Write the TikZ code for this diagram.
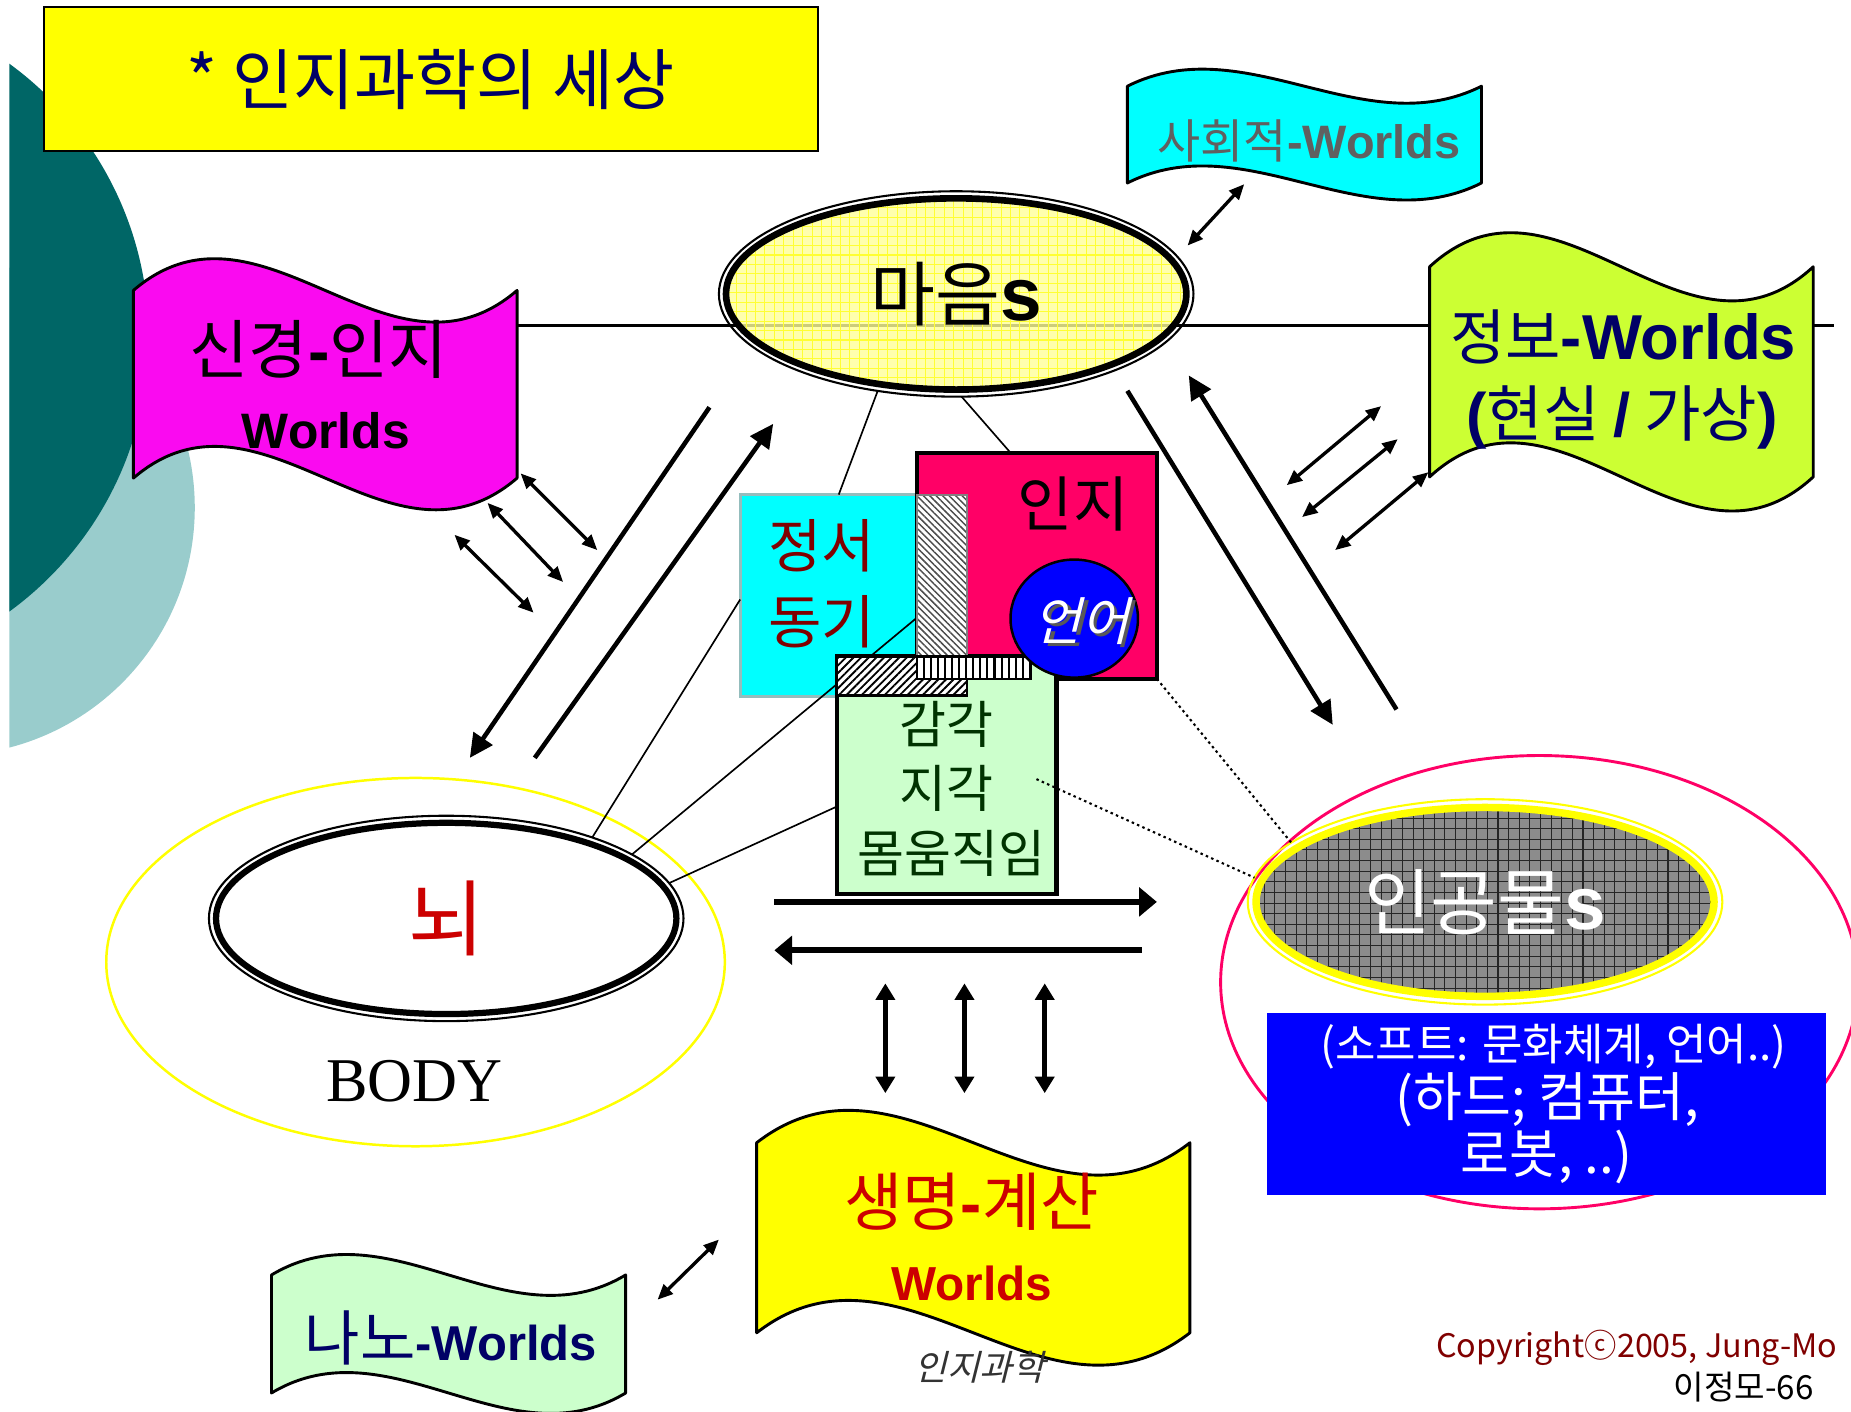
\documentclass[tikz,border=0pt]{standalone}
\usepackage{fontspec}
\setmainfont{Noto Sans CJK KR}
\newfontfamily\arial{Liberation Sans}
\newfontfamily\tnr{Liberation Serif}
\newfontfamily\krit[FakeSlant=0.25]{Noto Sans CJK KR}
\usetikzlibrary{arrows.meta,shapes.geometric,patterns.meta}
\definecolor{navy}{HTML}{000066}
\definecolor{tealD}{HTML}{006666}
\definecolor{tealL}{HTML}{99CCCC}
\definecolor{magW}{HTML}{FA0AF0}
\definecolor{limeW}{HTML}{CCFF33}
\definecolor{mintW}{HTML}{CCFFCC}
\definecolor{roseW}{HTML}{FF0066}
\definecolor{cyanW}{HTML}{00FFFF}
\definecolor{yellowW}{HTML}{FFFF00}
\definecolor{blueW}{HTML}{0000FF}
\definecolor{darkred}{HTML}{800000}
\definecolor{redW}{HTML}{CC0000}
\definecolor{greenD}{HTML}{003300}
\definecolor{grayT}{HTML}{606060}
\begin{document}
\begin{tikzpicture}[x=0.1mm,y=-0.1mm,
  flagbox/.style={draw=black,line width=0.7pt,line join=round},
  box/.style={draw=black,line width=1pt,inner sep=0pt,outer sep=0pt,anchor=north west},
  txt/.style={inner sep=0pt},
  ring/.style={ellipse,inner sep=0pt,outer sep=0pt,minimum width=40.2mm,minimum height=17.4mm},
  thinln/.style={line width=0.4pt},
  dotln/.style={line width=0.5pt,dash pattern=on 0.6pt off 0.8pt},
  bigarrow/.style={line width=1.1pt,-{Triangle[length=2mm,width=1.9mm]}},
  dblarrow/.style={line width=0.8pt,{Triangle[length=1.3mm,width=1.1mm]}-{Triangle[length=1.3mm,width=1.1mm]}},
  flatarrow/.style={line width=1.5pt,-{Triangle[length=1.5mm,width=2.4mm]}},
  vertarrow/.style={line width=1.1pt,{Triangle[length=1.4mm,width=1.6mm]}-{Triangle[length=1.4mm,width=1.6mm]}}]
\def\fs#1{\fontsize{#1}{#1}\selectfont}
\def\wave#1#2#3#4#5#6{%
  \draw[flagbox,fill=#6] (#1,#2) .. controls ({#1+#3/3},{#2-#5}) and ({#1+2*#3/3},{#2+#5}) .. ({#1+#3},#2)
    -- ({#1+#3},{#2+#4}) .. controls ({#1+2*#3/3},{#2+#4+#5}) and ({#1+#3/3},{#2+#4-#5}) .. (#1,{#2+#4}) -- cycle;}
  \useasboundingbox (0,0) rectangle (1568,1196);

  %Fondo
  \begin{scope}
    \clip (8,0) rectangle (400,1196);
    \fill[tealL] (-45,430) circle (210);
    \fill[tealD] (-161,286) circle (287);
  \end{scope}

  %Titulo
  \node[box,anchor=center,line width=0.5pt,fill=yellowW,minimum width=65.6mm,minimum height=12.2mm,text=navy] (title) at (365,67) {\fs{16}* 인지과학의 세상};

  %Linea horizontal
  \coordinate (lineL) at (300,276);
  \coordinate (lineR) at (1554,276);
  \draw[line width=0.7pt] (lineL) -- (lineR);

  %Banderas
  \wave{113}{246}{325}{159}{93}{magW}
  \wave{955}{73}{300}{82}{50}{cyanW}
  \wave{1211}{226}{325}{178}{100}{limeW}
  \wave{641}{968}{367}{161}{95}{yellowW}
  \wave{230}{1080}{300}{100}{60}{mintW}

  %Mente
  \coordinate (mc) at (810,249);
  \begin{scope}
    \clip (mc) ellipse (196 and 82);
    \fill[yellowW!40,fill opacity=0.8] (mc) ellipse (196 and 82);
    \draw[yellowW!80!white,line width=0.25pt,step=0.8mm] (600,150) grid (1020,350);
  \end{scope}
  \draw[line width=0.5pt] (mc) ellipse (201 and 87);
  \draw[line width=1.6pt] (mc) ellipse (195 and 81);
  \node[ring] (maeum) at (mc) {\fs{17}마음{\arial\bfseries\fs{18}s}};

  %Cerebro
  \draw[yellowW,line width=0.6pt] (352,815) ellipse (262 and 156);
  \coordinate (nc) at (378,778);
  \fill[white] (nc) ellipse (195 and 81);
  \draw[line width=0.5pt] (nc) ellipse (201 and 87);
  \draw[line width=1.5pt] (nc) ellipse (195 and 81);
  \node[ring,text=redW] (noe) at (nc) {\fs{20}뇌};
  \node[txt] (body) at (351,916) {\tnr\fs{15}BODY};

  %Artefactos
  \draw[roseW,line width=0.7pt] (1304,832) ellipse (270 and 192);
  \coordinate (ac) at (1258,764);
  \begin{scope}
    \clip (ac) ellipse (194 and 80);
    \fill[black!45] (ac) ellipse (194 and 80);
    \draw[black!85,line width=0.25pt,step=0.9mm] (1050,680) grid (1470,850);
  \end{scope}
  \draw[yellowW,line width=0.5pt] (ac) ellipse (201 and 87);
  \draw[yellowW,line width=1.8pt] (ac) ellipse (194 and 80);
  \node[ring,text=white] (ingong) at (ac) {\fs{17.5}인공물{\arial\bfseries\fs{18}s}};

  %Cajas centrales
  \node[box,draw=tealL!80!gray,line width=0.8pt,fill=cyanW,minimum width=19.1mm,minimum height=17.1mm] (jeongseo) at (627,419) {};
  \node[box,fill=roseW,minimum width=20.3mm,minimum height=19.1mm] (inji) at (777,384) {};
  \node[box,fill=mintW,minimum width=18.6mm,minimum height=20.1mm] (gamgak) at (709,556) {};

  \draw[thinln] (maeum.231) -- (jeongseo.98);
  \draw[thinln] (maeum.273) -- (inji.103);
  \draw[thinln] (jeongseo.182) -- (noe.29);
  \draw[thinln] (gamgak.196) -- (noe.9);
  \coordinate (barL) at (777,523);
  \draw[thinln] (barL) -- (noe.19);
  \coordinate (dotS) at (878,660);
  \draw[dotln] (inji.south east) -- (ingong.163);
  \draw[dotln] (dotS) -- (ingong.174);

  \node[box,draw=gray,line width=0.5pt,preaction={fill=white},pattern={Lines[angle=-45,distance=1.1pt,line width=0.35pt]},pattern color=black!70,minimum width=4.2mm,minimum height=15.5mm] (vbar) at (777,419) {};
  \node[box,line width=0.6pt,preaction={fill=white},pattern={Lines[angle=45,distance=1.3pt,line width=0.45pt]},minimum width=11mm,minimum height=3.3mm] (hbar) at (709,556) {};
  \node[box,line width=0.6pt,preaction={fill=white},pattern={Lines[angle=90,distance=1.7pt,line width=0.5pt]},minimum width=9.6mm,minimum height=1.9mm] (sbar) at (777,556) {};
  \node[ellipse,draw=black,line width=0.6pt,fill=blueW,minimum width=10.8mm,minimum height=10mm,inner sep=0pt] (eoneo) at (910,524) {};

  \node[txt,text=darkred] (jeongseoA) at (696,462) {\fs{14}정서};
  \node[txt,text=darkred] (jeongseoB) at (696,527) {\fs{14}동기};
  \node[txt] (injiT) at (909,427) {\fs{14.5}인지};
  \node[txt,text=black!65] (eoneoS) at (919,529) {\krit\fs{12.5}언어};
  \node[txt,text=white] (eoneoT) at (916,526) {\krit\fs{12.5}언어};
  \node[txt,text=greenD] (gamgakA) at (802,614) {\fs{12.3}감각};
  \node[txt,text=greenD] (gamgakB) at (802,668) {\fs{12.3}지각};
  \node[txt,text=greenD] (gamgakC) at (806,723) {\fs{12.3}몸움직임};

  %Flechas
  \coordinate (a1) at (955,331); \coordinate (a2) at (1129,614);
  \coordinate (b1) at (1183,601); \coordinate (b2) at (1007,318);
  \coordinate (c1) at (601,345); \coordinate (c2) at (398,642);
  \coordinate (d1) at (453,642); \coordinate (d2) at (655,359);
  \draw[bigarrow] (a1) -- (a2);
  \draw[bigarrow] (b1) -- (b2);
  \draw[bigarrow] (c1) -- (c2);
  \draw[bigarrow] (d1) -- (d2);
  \foreach \n/\xa/\ya/\xb/\yb in {m1/441/401/506/466,m2/413/426/477/493,m3/385/453/452/519,
      r1/1090/411/1170/344,r2/1103/438/1184/372,r3/1131/466/1210/400,s1/1006/208/1054/156,n1/557/1101/609/1050}{
    \coordinate (\n-a) at (\xa,\ya);
    \coordinate (\n-b) at (\xb,\yb);
    \draw[dblarrow] (\n-a) -- (\n-b);
  }
  \coordinate (h1) at (656,764); \coordinate (h2) at (980,764);
  \coordinate (h3) at (967,805); \coordinate (h4) at (656,805);
  \draw[flatarrow] (h1) -- (h2);
  \draw[flatarrow] (h3) -- (h4);
  \foreach \x [count=\i] in {750,817,885}{
    \coordinate (v\i-a) at (\x,833);
    \coordinate (v\i-b) at (\x,926);
    \draw[vertarrow] (v\i-a) -- (v\i-b);
  }

  %Caja azul
  \node[box,draw=none,fill=blueW,minimum width=47.4mm,minimum height=15.4mm] (soft) at (1073,858) {};
  \node[txt,text=white] (softA) at (1316,887) {\fs{10.6}(소프트: 문화체계, 언어..)};
  \node[txt,text=white] (softB) at (1311,932) {\fs{12.8}(하드; 컴퓨터,};
  \node[txt,text=white] (softC) at (1310,980) {\fs{12.8}로봇, ..)};

  %Textos banderas
  \node[txt] (singyeong) at (270,296) {\fs{15.5}신경{\arial\bfseries -}인지};
  \node[txt] (singyeongW) at (276,365) {\arial\bfseries\fs{12}Worlds};
  \node[txt,text=grayT] (sahoe) at (1109,119) {\fs{11.3}사회적{\arial\bfseries\fs{11.3}-Worlds}};
  \node[txt,text=navy] (jeongbo) at (1375,285) {\fs{14.5}정보{\arial\bfseries\fs{15.3}-Worlds}};
  \node[txt,text=navy] (jeongboB) at (1374,354) {\fs{14.8}{\arial\bfseries(}현실 {\arial\bfseries/} 가상{\arial\bfseries)}};
  \node[txt,text=redW] (saengmyeong) at (823,1018) {\fs{15.3}생명{\arial\bfseries -}계산};
  \node[txt,text=redW] (saengmyeongW) at (823,1087) {\arial\bfseries\fs{11.5}Worlds};
  \node[txt,text=navy] (nano) at (382,1133) {\fs{14.5}나노{\arial\bfseries\fs{11.8}-Worlds}};
  \node[txt,text=black!80] (injigwahak) at (830,1158) {\krit\fs{8.5}인지과학};
  \node[txt,anchor=east,text=darkred] (copy) at (1557,1142) {\fs{7.8}Copyrightⓒ2005, Jung-Mo};
  \node[txt,anchor=east] (page) at (1537,1175) {\fs{8}이정모-66};
\end{tikzpicture}
\end{document}
